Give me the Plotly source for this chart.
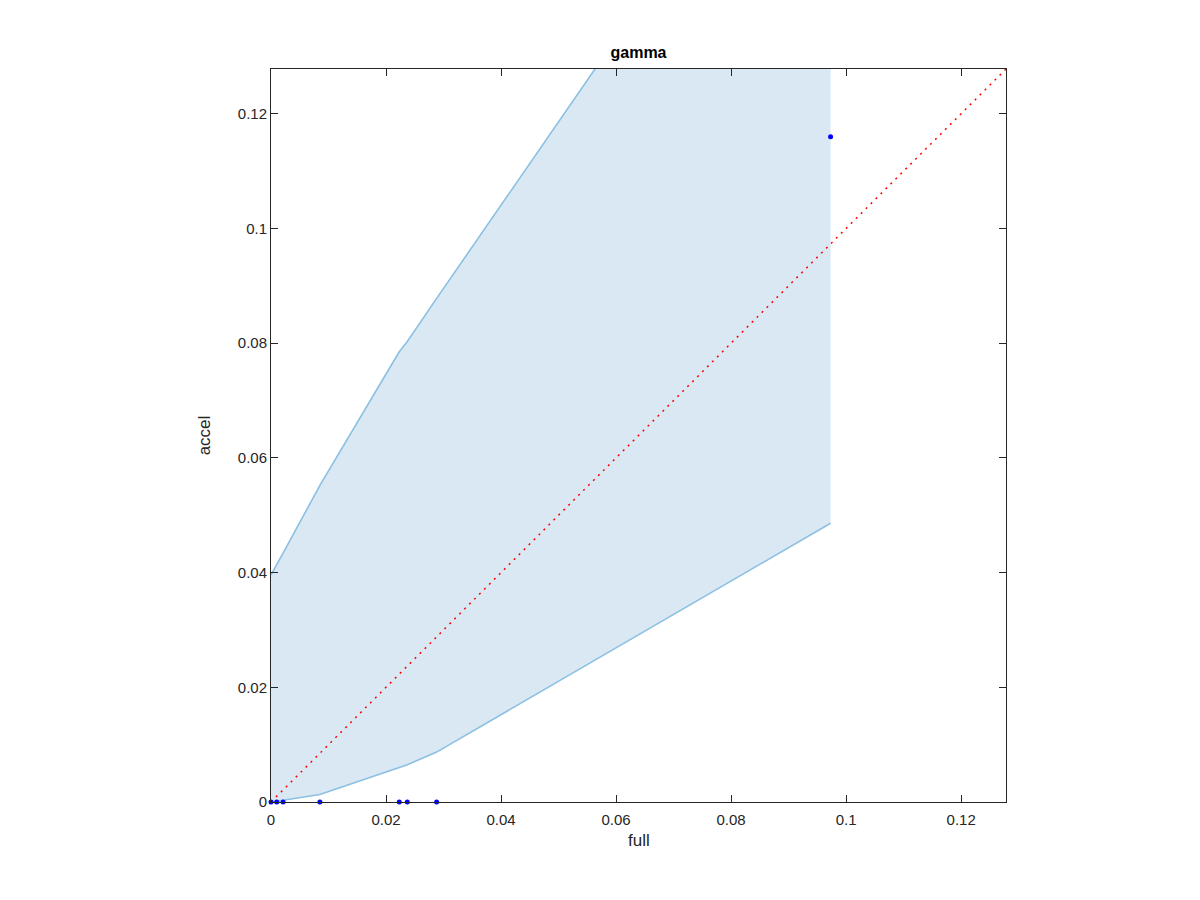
import plotly.graph_objects as go

# data
x_full = [0.0, 0.0010, 0.0021, 0.0085, 0.0223, 0.0237, 0.0288, 0.0973]
y_accel = [0.0, 0.0, 0.0, 0.0, 0.0, 0.0, 0.0, 0.1160]
band_upper = [0.0396, 0.0415, 0.0434, 0.0552, 0.0785, 0.0803, 0.0878, 0.1873]
band_lower = [0.0, 0.0001, 0.0003, 0.0013, 0.0059, 0.0065, 0.0087, 0.0486]
diag = [0.0, 0.1278]

AX_MAX = 0.1278
fill_col = "#dae8f4"
line_col = "#8bc0e3"

fig = go.Figure()
fig.add_trace(go.Scatter(
    x=x_full + x_full[::-1], y=band_upper + band_lower[::-1],
    fill="toself", fillcolor=fill_col, line=dict(width=0),
    mode="lines", hoverinfo="skip", showlegend=False))
fig.add_trace(go.Scatter(x=x_full, y=band_upper, mode="lines",
                         line=dict(color=line_col, width=1.6), showlegend=False))
fig.add_trace(go.Scatter(x=x_full, y=band_lower, mode="lines",
                         line=dict(color=line_col, width=1.6), showlegend=False))
fig.add_trace(go.Scatter(x=diag, y=diag, mode="lines",
                         line=dict(color="red", width=1.5, dash="2px,5px"), showlegend=False))
fig.add_trace(go.Scatter(x=x_full, y=y_accel, mode="markers",
                         marker=dict(color="blue", size=5), cliponaxis=False,
                         showlegend=False))

axis_common = dict(
    range=[0, AX_MAX], showgrid=False, zeroline=False, showline=True,
    linecolor="#262626", linewidth=1, mirror="ticks", ticks="inside",
    ticklen=7, tickcolor="#262626", tickfont=dict(size=15, color="#262626"),
    tickvals=[0, 0.02, 0.04, 0.06, 0.08, 0.1, 0.12],
    ticktext=["0", "0.02", "0.04", "0.06", "0.08", "0.1", "0.12"],
)
fig.update_layout(
    width=1200, height=900, plot_bgcolor="white", paper_bgcolor="white",
    font=dict(family="Liberation Sans, Arial, sans-serif", color="#262626"),
    margin=dict(l=263, r=202, t=61, b=106),
    title=dict(text="<b>gamma</b>", x=(263 + 735 / 2) / 1200, xanchor="center",
               y=1 - 44/900, yanchor="middle", font=dict(size=16, color="black")),
    xaxis=dict(ticklabelstandoff=4, **axis_common),
    yaxis=dict(title=dict(text="accel", font=dict(size=17), standoff=22), **axis_common),
    annotations=[dict(text="full", xref="paper", yref="paper", x=0.5, y=-38/733,
                      xanchor="center", yanchor="middle", showarrow=False,
                      font=dict(size=17, color="#262626"))],
)
fig.write_html("out.html")
